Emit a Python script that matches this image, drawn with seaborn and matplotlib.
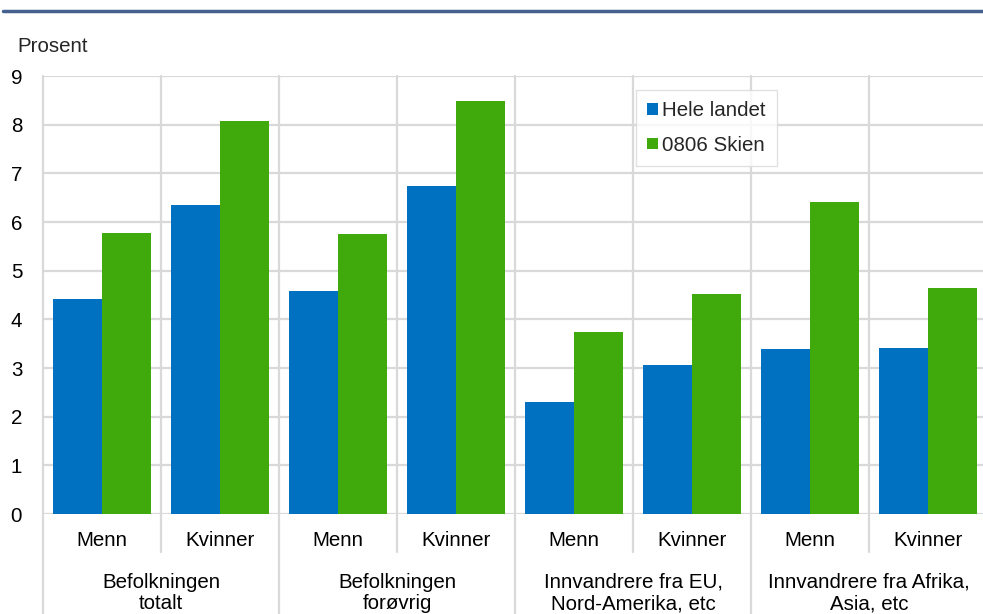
import pandas as pd
import matplotlib.pyplot as plt
import seaborn as sns
from matplotlib.lines import Line2D

# Data
grupper = ["Befolkningen\ntotalt", "Befolkningen\nforøvrig",
           "Innvandrere fra EU,\nNord-Amerika, etc", "Innvandrere fra Afrika,\nAsia, etc"]
kjonn = ["Menn", "Kvinner"]
serier = ["Hele landet", "0806 Skien"]
hele_landet = [4.42, 6.35, 4.58, 6.74, 2.30, 3.06, 3.39, 3.41]
skien = [5.77, 8.07, 5.75, 8.49, 3.74, 4.52, 6.41, 4.64]

farger = ["#0070c0", "#40a90c"]
grid_col = "#d9d9d9"

# Long-format table
kategorier = [f"{g}|{k}" for g in grupper for k in kjonn]
rows = []
for navn, verdier in zip(serier, [hele_landet, skien]):
    for kat, v in zip(kategorier, verdier):
        rows.append({"kat": kat, "serie": navn, "verdi": v})
df = pd.DataFrame(rows)

sns.set_theme(style="white")
plt.rcParams['font.family'] = ['Liberation Sans', 'DejaVu Sans']
fs = 14.8

W, H = 983, 614
fig = plt.figure(figsize=(W / 100, H / 100), dpi=100)
ax = fig.add_axes([43 / W, (H - 514) / H, 944 / W, 438 / H])

sns.barplot(data=df, x="kat", y="verdi", hue="serie", order=kategorier,
            hue_order=serier, palette=farger, width=0.83, gap=0,
            saturation=1, linewidth=0, ax=ax, legend=True, zorder=3)

ax.set_xlim(-0.5, len(kategorier) - 0.5)
ax.set_ylim(0, 9)
ax.set_yticks(range(0, 10))
ax.set_yticklabels([str(i) for i in range(0, 10)], fontsize=fs, color="black")
ax.tick_params(axis="y", length=0, pad=15)
ax.set_xticks([])
ax.set_xlabel("")
ax.set_ylabel("")
for s in ax.spines.values():
    s.set_visible(False)

# Horizontal grid
for yv in range(0, 10):
    ax.axhline(yv, color=grid_col, lw=1.6, zorder=1)

# Vertical separators (extend under the axis for the category labels)
per_px = 9 / 438
for k in range(len(kategorier) + 1):
    x = k - 0.5
    ybot = -(614 - 514) * per_px if k % 2 == 0 else -(552 - 514) * per_px
    ax.plot([x, x], [9, ybot], color=grid_col, lw=1.6, clip_on=False, zorder=1)

# Category labels
for i, kat in enumerate(kategorier):
    ax.text(i, -(540 - 514) * per_px, kat.split("|")[1], ha="center", va="center",
            fontsize=fs, color="black")
for j, g in enumerate(grupper):
    ax.text(2 * j + 0.5, -(593 - 514) * per_px, g, ha="center", va="center",
            fontsize=fs, color="black", linespacing=1.15)

# Legend
handles, labels = ax.get_legend_handles_labels()
ax.legend(handles, labels, loc="upper left", bbox_to_anchor=(636 / W, 1 - 90 / H),
          bbox_transform=fig.transFigure, frameon=True, fancybox=False,
          edgecolor=grid_col, fontsize=fs, handlelength=0.5, handleheight=0.5,
          handletextpad=0.2, labelspacing=0.75, borderpad=0.55, borderaxespad=0)

# Y unit label and top rule
fig.text(17 / W, 1 - 46 / H, "Prosent", fontsize=fs, va="center", ha="left")
fig.add_artist(Line2D([3 / W, 1], [1 - 11 / H, 1 - 11 / H], color="#44618f", lw=2.5,
                      transform=fig.transFigure))

fig.savefig("out.png", dpi=100)
